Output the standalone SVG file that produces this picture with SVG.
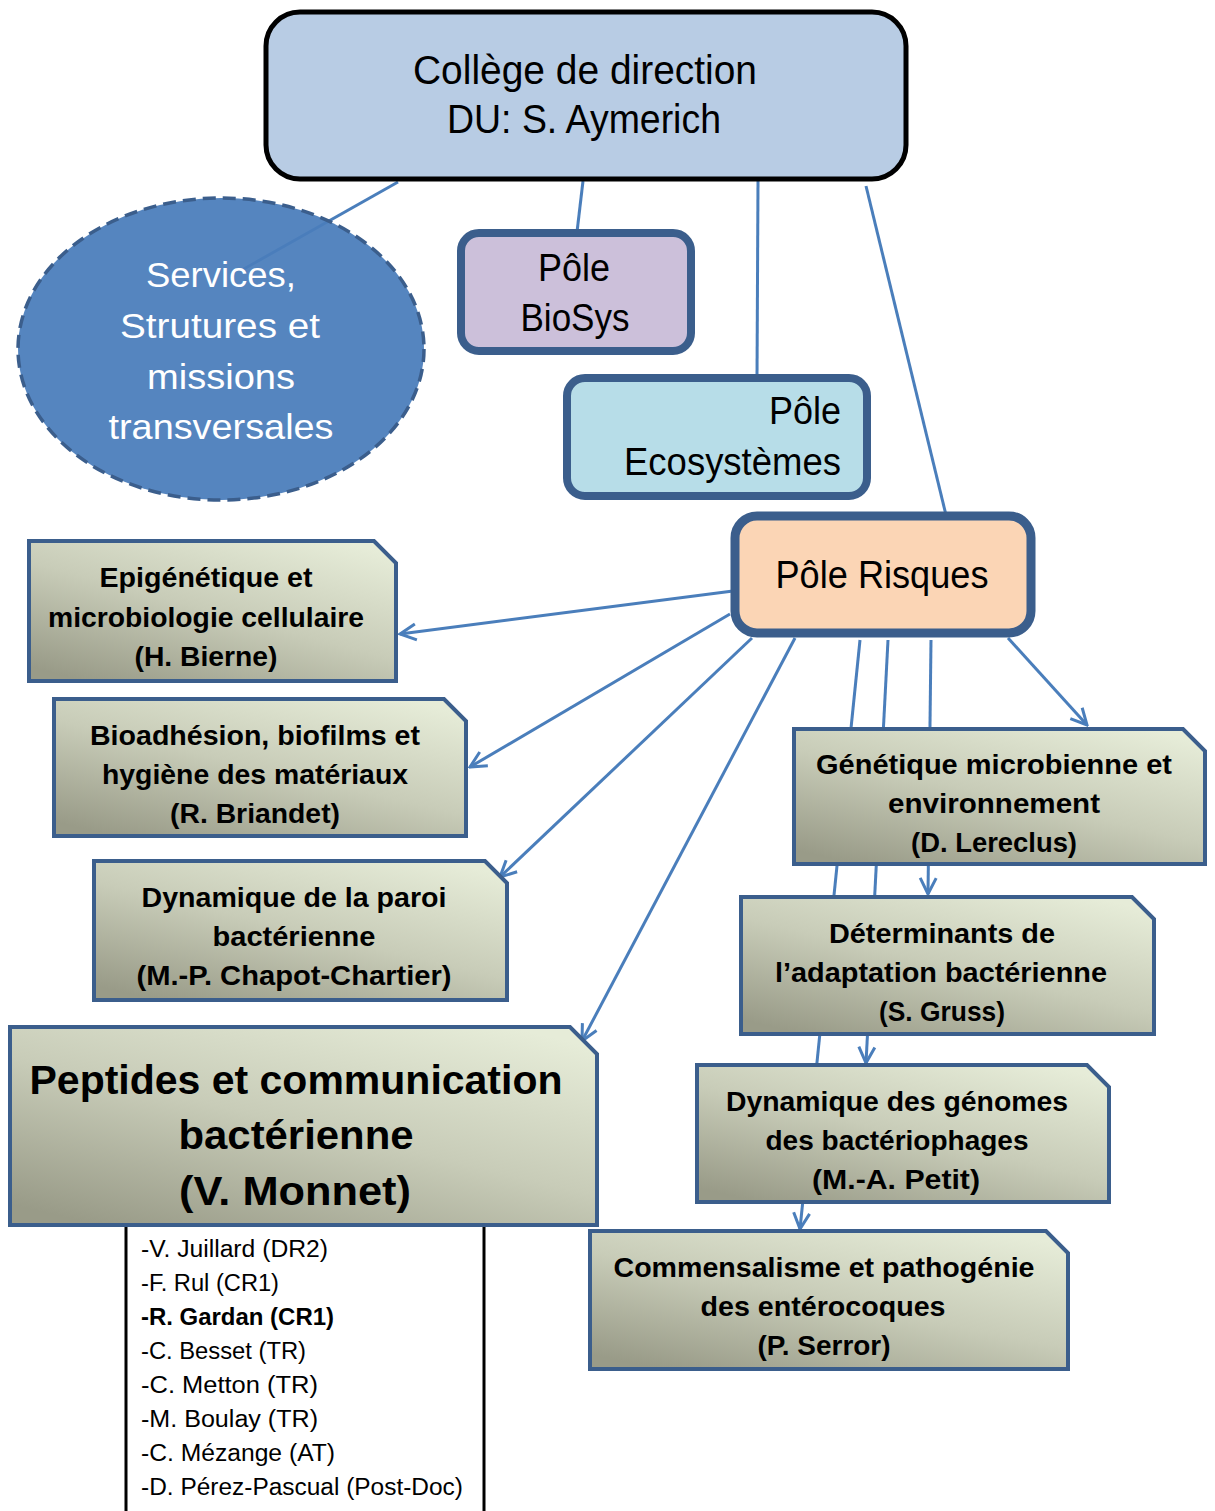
<svg xmlns="http://www.w3.org/2000/svg" width="1215" height="1511" viewBox="0 0 1215 1511">
<defs>
<style>
.conn{stroke:#4a7ebb;stroke-width:3;fill:none}
.arr{marker-end:url(#ah)}
.pole{stroke:#3b5e8c;stroke-width:8}
.note{fill:url(#ng);stroke:#3b5e8c;stroke-width:4}
.t{font-family:"Liberation Sans",Arial,sans-serif;fill:#000;text-anchor:middle}
.nt{font-family:"Liberation Sans",Arial,sans-serif;font-weight:bold;font-size:27px;fill:#000;text-anchor:middle}
.lt{font-family:"Liberation Sans",Arial,sans-serif;font-size:23px;fill:#000}
</style>
<linearGradient id="ng" x1="0.15" y1="1" x2="0.85" y2="0">
<stop offset="0" stop-color="#999b88"/>
<stop offset="0.5" stop-color="#c8ccb8"/>
<stop offset="1" stop-color="#e6ecd8"/>
</linearGradient>
<marker id="ah" viewBox="0 0 20 20" refX="18" refY="10" markerWidth="20" markerHeight="20" markerUnits="userSpaceOnUse" orient="auto">
<path d="M2,2 L18,10 L2,18" fill="none" stroke="#4a7ebb" stroke-width="3"/>
</marker>
</defs>

<g id="connectors">
<line class="conn" x1="398" y1="182" x2="242" y2="270"/>
<line class="conn" x1="583" y1="181" x2="577" y2="232"/>
<line class="conn" x1="758" y1="181" x2="757" y2="377"/>
<line class="conn" x1="866" y1="186" x2="946" y2="515"/>
<line class="conn arr" x1="733" y1="591" x2="400" y2="634"/>
<line class="conn arr" x1="730" y1="614" x2="470" y2="767"/>
<line class="conn arr" x1="752" y1="638" x2="500" y2="877"/>
<line class="conn arr" x1="795" y1="638" x2="582" y2="1041"/>
<line class="conn arr" x1="1008" y1="638" x2="1087" y2="725"/>
<line class="conn arr" x1="860" y1="640" x2="800" y2="1229"/>
<line class="conn arr" x1="888" y1="640" x2="866" y2="1063"/>
<line class="conn arr" x1="931" y1="640" x2="928" y2="894"/>
</g>

<g id="college">
<rect x="266" y="12" width="640" height="167" rx="34" fill="#b8cce4" stroke="#000" stroke-width="5"/>
<text class="t" x="585" y="84" font-size="40" textLength="344" lengthAdjust="spacingAndGlyphs">Collège de direction</text>
<text class="t" x="584" y="133" font-size="40" textLength="274" lengthAdjust="spacingAndGlyphs">DU: S. Aymerich</text>
</g>

<g id="services">
<ellipse cx="221" cy="349" rx="203" ry="151" fill="#4a7dbb" fill-opacity="0.94" stroke="#3b5e8c" stroke-width="3.5" stroke-dasharray="13,7"/>
<text class="t" x="221" y="287" font-size="35" style="fill:#fff" textLength="150" lengthAdjust="spacingAndGlyphs">Services,</text>
<text class="t" x="220" y="338" font-size="35" style="fill:#fff" textLength="200" lengthAdjust="spacingAndGlyphs">Strutures et</text>
<text class="t" x="221" y="389" font-size="35" style="fill:#fff" textLength="148" lengthAdjust="spacingAndGlyphs">missions</text>
<text class="t" x="221" y="439" font-size="35" style="fill:#fff" textLength="225" lengthAdjust="spacingAndGlyphs">transversales</text>
</g>

<g id="biosys">
<rect class="pole" x="461" y="233" width="230" height="118" rx="18" fill="#ccc0da"/>
<text class="t" x="574" y="281" font-size="38" textLength="72" lengthAdjust="spacingAndGlyphs">Pôle</text>
<text class="t" x="575" y="331" font-size="38" textLength="109" lengthAdjust="spacingAndGlyphs">BioSys</text>
</g>

<g id="ecosystemes">
<rect class="pole" x="567" y="378" width="300" height="118" rx="18" fill="#b7dde8"/>
<text class="t" x="841" y="424" font-size="38" style="text-anchor:end" textLength="72" lengthAdjust="spacingAndGlyphs">Pôle</text>
<text class="t" x="841" y="475" font-size="38" style="text-anchor:end" textLength="217" lengthAdjust="spacingAndGlyphs">Ecosystèmes</text>
</g>

<g id="risques">
<rect x="735" y="516" width="296" height="117" rx="22" fill="#fbd5b5" stroke="#3b5e8c" stroke-width="9"/>
<text class="t" x="882" y="588" font-size="38" textLength="213" lengthAdjust="spacingAndGlyphs">Pôle Risques</text>
</g>

<g id="epigenetique">
<path class="note" d="M29,541 H374 L396,563 V681 H29 Z"/>
<text class="nt" x="206" y="587" textLength="213" lengthAdjust="spacingAndGlyphs">Epigénétique et</text>
<text class="nt" x="206" y="627" textLength="316" lengthAdjust="spacingAndGlyphs">microbiologie cellulaire</text>
<text class="nt" x="206" y="666" textLength="143" lengthAdjust="spacingAndGlyphs">(H. Bierne)</text>
</g>

<g id="bioadhesion">
<path class="note" d="M54,699 H444 L466,721 V836 H54 Z"/>
<text class="nt" x="255" y="745" textLength="330" lengthAdjust="spacingAndGlyphs">Bioadhésion, biofilms et</text>
<text class="nt" x="255" y="784" textLength="306" lengthAdjust="spacingAndGlyphs">hygiène des matériaux</text>
<text class="nt" x="255" y="823" textLength="170" lengthAdjust="spacingAndGlyphs">(R. Briandet)</text>
</g>

<g id="paroi">
<path class="note" d="M94,861 H485 L507,883 V1000 H94 Z"/>
<text class="nt" x="294" y="907" textLength="305" lengthAdjust="spacingAndGlyphs">Dynamique de la paroi</text>
<text class="nt" x="294" y="946" textLength="163" lengthAdjust="spacingAndGlyphs">bactérienne</text>
<text class="nt" x="294" y="985" textLength="315" lengthAdjust="spacingAndGlyphs">(M.-P. Chapot-Chartier)</text>
</g>

<g id="liste">
<rect x="126" y="1224" width="358" height="300" fill="#fff" stroke="#000" stroke-width="3"/>
<text class="lt" x="141" y="1257" textLength="187" lengthAdjust="spacingAndGlyphs">-V. Juillard (DR2)</text>
<text class="lt" x="141" y="1291" textLength="138" lengthAdjust="spacingAndGlyphs">-F. Rul (CR1)</text>
<text class="lt" x="141" y="1325" font-weight="bold" textLength="193" lengthAdjust="spacingAndGlyphs">-R. Gardan (CR1)</text>
<text class="lt" x="141" y="1359" textLength="165" lengthAdjust="spacingAndGlyphs">-C. Besset (TR)</text>
<text class="lt" x="141" y="1393" textLength="177" lengthAdjust="spacingAndGlyphs">-C. Metton (TR)</text>
<text class="lt" x="141" y="1427" textLength="177" lengthAdjust="spacingAndGlyphs">-M. Boulay (TR)</text>
<text class="lt" x="141" y="1461" textLength="194" lengthAdjust="spacingAndGlyphs">-C. Mézange (AT)</text>
<text class="lt" x="141" y="1495" textLength="322" lengthAdjust="spacingAndGlyphs">-D. Pérez-Pascual (Post-Doc)</text>
</g>

<g id="peptides">
<path class="note" d="M10,1027 H570 L597,1054 V1225 H10 Z"/>
<text class="nt" x="296" y="1094" style="font-size:41px" textLength="533" lengthAdjust="spacingAndGlyphs">Peptides et communication</text>
<text class="nt" x="296" y="1149" style="font-size:41px" textLength="235" lengthAdjust="spacingAndGlyphs">bactérienne</text>
<text class="nt" x="295" y="1205" style="font-size:41px" textLength="232" lengthAdjust="spacingAndGlyphs">(V. Monnet)</text>
</g>

<g id="genetique">
<path class="note" d="M794,729 H1183 L1205,751 V864 H794 Z"/>
<text class="nt" x="994" y="774" textLength="356" lengthAdjust="spacingAndGlyphs">Génétique microbienne et</text>
<text class="nt" x="994" y="813" textLength="212" lengthAdjust="spacingAndGlyphs">environnement</text>
<text class="nt" x="994" y="852" textLength="166" lengthAdjust="spacingAndGlyphs">(D. Lereclus)</text>
</g>

<g id="determinants">
<path class="note" d="M741,897 H1132 L1154,919 V1034 H741 Z"/>
<text class="nt" x="942" y="943" textLength="226" lengthAdjust="spacingAndGlyphs">Déterminants de</text>
<text class="nt" x="941" y="982" textLength="332" lengthAdjust="spacingAndGlyphs">l’adaptation bactérienne</text>
<text class="nt" x="942" y="1021" textLength="126" lengthAdjust="spacingAndGlyphs">(S. Gruss)</text>
</g>

<g id="genomes">
<path class="note" d="M697,1065 H1087 L1109,1087 V1202 H697 Z"/>
<text class="nt" x="897" y="1111" textLength="342" lengthAdjust="spacingAndGlyphs">Dynamique des génomes</text>
<text class="nt" x="897" y="1150" textLength="263" lengthAdjust="spacingAndGlyphs">des bactériophages</text>
<text class="nt" x="896" y="1189" textLength="168" lengthAdjust="spacingAndGlyphs">(M.-A. Petit)</text>
</g>

<g id="commensalisme">
<path class="note" d="M590,1231 H1046 L1068,1253 V1369 H590 Z"/>
<text class="nt" x="824" y="1277" textLength="421" lengthAdjust="spacingAndGlyphs">Commensalisme et pathogénie</text>
<text class="nt" x="823" y="1316" textLength="245" lengthAdjust="spacingAndGlyphs">des entérocoques</text>
<text class="nt" x="824" y="1355" textLength="133" lengthAdjust="spacingAndGlyphs">(P. Serror)</text>
</g>
</svg>
